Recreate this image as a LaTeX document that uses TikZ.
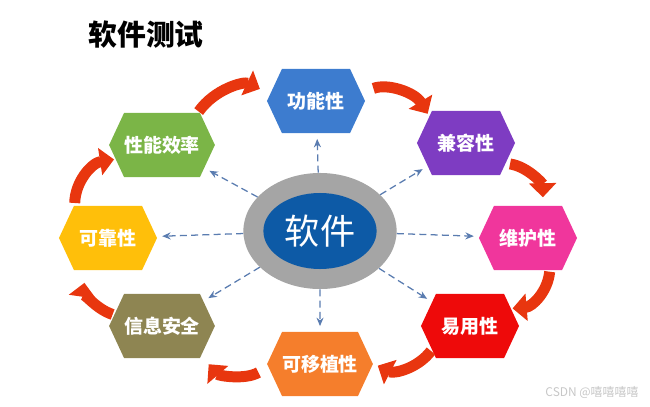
\documentclass[tikz,border=0pt]{standalone}
\usepackage{fontspec}
\setmainfont{Noto Sans CJK SC}
\usetikzlibrary{shapes.geometric, shapes.symbols, arrows.meta}

\definecolor{funcblue}{HTML}{3D7CCF}
\definecolor{perfgreen}{HTML}{7BB547}
\definecolor{compurple}{HTML}{7E3CC2}
\definecolor{maintpink}{HTML}{F0369C}
\definecolor{usered}{HTML}{EE0A0A}
\definecolor{portorange}{HTML}{F57E2C}
\definecolor{secolive}{HTML}{8E8552}
\definecolor{relyellow}{HTML}{FFBF0A}
\definecolor{coregray}{HTML}{A5A5A5}
\definecolor{coreblue}{HTML}{0D5AA6}
\definecolor{flowred}{HTML}{E8360F}
\definecolor{dashblue}{HTML}{5A7CB0}

\begin{document}
\begin{tikzpicture}[x=0.025cm, y=-0.025cm,
        hexbox/.style={shape=signal, signal to=east and west, signal pointer angle=130,
                       minimum width=2.45cm, minimum height=1.6cm, inner sep=0pt,
                       text=white, font=\fontsize{13.5}{16}\selectfont\bfseries},
        dasharr/.style={-{Stealth[length=6pt,width=5pt]}, draw=dashblue, line width=0.9pt,
                        dash pattern=on 5pt off 3pt, shorten >=4pt},
        redarr/.style={-{Triangle[length=10pt,width=19pt]},
                       draw=flowred, line width=7.8pt, bend left=40}
    ]
    \useasboundingbox (0,0) rectangle (650,407);

    \node[font=\fontsize{20.5}{24}\selectfont\bfseries] (title) at (146,35) {软件测试};

    % centre
    \node[ellipse, fill=coregray, minimum width=3.83cm, minimum height=2.9cm] (soft) at (320,231) {};
    \node[ellipse, fill=coreblue, minimum width=2.83cm, minimum height=1.9cm,
          text=white, font=\fontsize{25}{28}\selectfont] (softin) at (soft) {软件};

    % quality characteristics
    \node[hexbox, fill=funcblue]   (func) at (316,101) {功能性};
    \node[hexbox, fill=compurple]  (comp) at (466,143) {兼容性};
    \node[hexbox, fill=maintpink]  (main) at (528,238) {维护性};
    \node[hexbox, fill=usered]     (use)  at (470,326) {易用性};
    \node[hexbox, fill=portorange] (port) at (320,364) {可移植性};
    \node[hexbox, fill=secolive]   (sec)  at (162,326) {信息安全};
    \node[hexbox, fill=relyellow]  (rel)  at (108,238) {可靠性};
    \node[hexbox, fill=perfgreen]  (perf) at (162,145) {性能效率};

    \foreach \q in {func, comp, main, use, port, sec, rel, perf}
        \draw[dasharr] (soft) -- (\q);

    % cycle
    \draw[redarr, shorten <=1pt, shorten >=8pt] (perf.42)  to (func.171);
    \draw[redarr, shorten <=9pt, shorten >=2pt] (func.10)  to (comp.144);
    \draw[redarr, shorten <=3pt, shorten >=6pt] (comp.-27) to (main.65);
    \draw[redarr, shorten <=1pt, shorten >=1pt] (main.-56) to (use.23);
    \draw[redarr, shorten <=1pt, shorten >=4pt] (use.212)  to (port.1);
    \draw[redarr, shorten <=8pt, shorten >=8pt] (port.183) to (sec.-37);
    \draw[redarr, shorten <=1pt, shorten >=9pt] (sec.167)  to (rel.236);
    \draw[redarr, shorten <=2pt, shorten >=1pt] (rel.136)  to (perf.197);

    \node[text=black!22, font=\fontsize{8.5}{10}\selectfont] (mark) at (592,393) {CSDN @嘻嘻嘻嘻};
\end{tikzpicture}
\end{document}
